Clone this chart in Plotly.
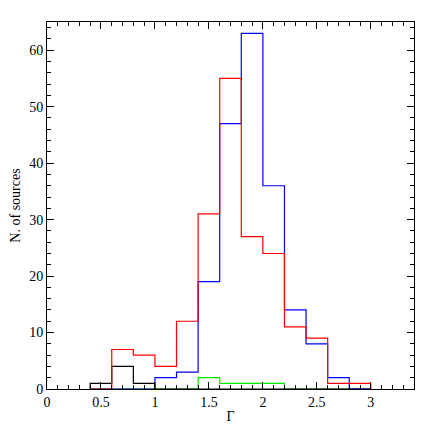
import plotly.graph_objs as go

# bins of width 0.2 from 0.4 to 3.0
edges = [0.4, 0.6, 0.8, 1.0, 1.2, 1.4, 1.6, 1.8, 2.0, 2.2, 2.4, 2.6, 2.8, 3.0]
red = [0, 7, 6, 4, 12, 31, 55, 27, 24, 11, 9, 1, 1]
blue = [0, 0, 0, 2, 3, 19, 47, 63, 36, 14, 8, 2, 0]
black = [1, 4, 1, 0, 0, 0, 0, 0, 0, 0, 0, 0, 0]
green = [0, 0, 0, 0, 0, 2, 1, 1, 1, 0, 0, 0, 0]


def step(vals, color):
    x = [edges[0]] + edges
    y = [0] + vals + [0]
    return go.Scatter(x=x, y=y, mode='lines', line=dict(color=color, width=1.2, shape='hv'),
                      showlegend=False, hoverinfo='skip')


fig = go.Figure([step(green, '#00ee00'), step(black, 'black'), step(blue, 'blue'), step(red, 'red')])

font = dict(family='Liberation Serif', size=14, color='black')
axis_common = dict(showgrid=False, zeroline=False, showline=True, linecolor='black', linewidth=1,
                   mirror='allticks', ticks='inside', ticklen=7, tickcolor='black',
                   tickfont=font, automargin=False, layer='above traces')

fig.update_layout(
    width=436, height=436,
    margin=dict(l=39, r=30, t=14, b=55),
    paper_bgcolor='white', plot_bgcolor='white',
    xaxis=dict(range=[0, 3.4], tickvals=[0, 0.5, 1, 1.5, 2, 2.5, 3], ticktext=['0', '0.5', '1', '1.5', '2', '2.5', '3'],
               minor=dict(dtick=0.1, ticks='inside', ticklen=4, tickcolor='black'),
               title=dict(text='Γ', font=font, standoff=2), **axis_common),
    yaxis=dict(range=[0, 65], dtick=10,
               minor=dict(dtick=2, ticks='inside', ticklen=4, tickcolor='black'),
               title=dict(text='N. of sources', font=font, standoff=8), **axis_common),
)

fig.write_html("out.html")
